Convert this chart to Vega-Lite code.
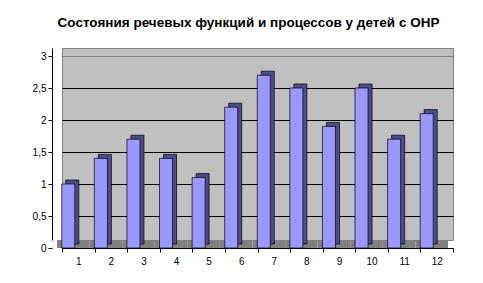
{
  "$schema": "https://vega.github.io/schema/vega-lite/v6.json",
  "width": 391,
  "height": 192,
  "autosize": {"type": "none"},
  "padding": {"left": 62, "top": 48, "right": 30, "bottom": 43},
  "background": "white",
  "title": {
    "text": "Состояния речевых функций и процессов у детей с ОНР",
    "font": "Liberation Sans",
    "fontSize": 13.5,
    "fontWeight": "bold",
    "color": "black",
    "anchor": "middle",
    "frame": "group",
    "dx": -9,
    "offset": 19
  },
  "data": {
    "values": [
      {"k": "1", "v": 1.0},
      {"k": "2", "v": 1.4},
      {"k": "3", "v": 1.7},
      {"k": "4", "v": 1.4},
      {"k": "5", "v": 1.1},
      {"k": "6", "v": 2.2},
      {"k": "7", "v": 2.7},
      {"k": "8", "v": 2.5},
      {"k": "9", "v": 1.9},
      {"k": "10", "v": 2.5},
      {"k": "11", "v": 1.7},
      {"k": "12", "v": 2.1}
    ]
  },
  "encoding": {
    "x": {
      "field": "k",
      "type": "ordinal",
      "sort": null,
      "scale": {"paddingInner": 0, "paddingOuter": 0},
      "axis": {
        "title": null,
        "labelAngle": 0,
        "offset": 8,
        "tickOffset": -10,
        "tickBand": "extent",
        "domainColor": "black",
        "tickColor": "black",
        "tickSize": 4,
        "labelFont": "Liberation Sans",
        "labelFontSize": 10,
        "labelColor": "black",
        "labelPadding": 4
      }
    }
  },
  "layer": [
    {
      "mark": {"type": "rect", "fill": "#808080", "xOffset": -5, "y2Offset": 8},
      "encoding": {
        "y": {
          "datum": 0,
          "type": "quantitative",
          "scale": {"domain": [0, 3], "nice": false},
          "axis": {
            "title": null,
            "values": [0, 0.5, 1, 1.5, 2, 2.5, 3],
            "tickCount": 7,
            "format": "~g",
            "labelExpr": "replace(datum.label, '.', ',')",
            "labelOverlap": false,
            "offset": 10,
            "tickOffset": 8,
            "grid": true,
            "gridColor": {"condition": {"test": "datum.value === 0 || datum.value === 3", "value": "#808080"}, "value": "black"},
            "gridOpacity": 1,
            "domainColor": "black",
            "tickColor": "black",
            "tickSize": 4,
            "labelFont": "Liberation Sans",
            "labelFontSize": 10,
            "labelColor": "black",
            "labelPadding": 2
          }
        },
        "y2": {"datum": 0}
      }
    },
    {
      "mark": {"type": "bar", "width": {"band": 0.4}, "fill": "#4C4C8C", "stroke": "black", "strokeWidth": 0.7, "xOffset": -6, "yOffset": 4, "y2Offset": 4},
      "encoding": {
        "y": {
          "field": "v",
          "type": "quantitative",
          "axis": {
            "title": null,
            "values": [0, 0.5, 1, 1.5, 2, 2.5, 3],
            "tickCount": 7,
            "format": "~g",
            "labelExpr": "replace(datum.label, '.', ',')",
            "labelOverlap": false,
            "offset": 10,
            "tickOffset": 8,
            "grid": true,
            "gridColor": {"condition": {"test": "datum.value === 0 || datum.value === 3", "value": "#808080"}, "value": "black"},
            "gridOpacity": 1,
            "domainColor": "black",
            "tickColor": "black",
            "tickSize": 4,
            "labelFont": "Liberation Sans",
            "labelFontSize": 10,
            "labelColor": "black",
            "labelPadding": 2
          }
        },
        "y2": {"datum": 0}
      }
    },
    {
      "mark": {"type": "bar", "width": {"band": 0.4}, "fill": "#9999FF", "stroke": "black", "strokeWidth": 0.7, "xOffset": -10, "yOffset": 8, "y2Offset": 8},
      "encoding": {
        "y": {
          "field": "v",
          "type": "quantitative",
          "axis": {
            "title": null,
            "values": [0, 0.5, 1, 1.5, 2, 2.5, 3],
            "tickCount": 7,
            "format": "~g",
            "labelExpr": "replace(datum.label, '.', ',')",
            "labelOverlap": false,
            "offset": 10,
            "tickOffset": 8,
            "grid": true,
            "gridColor": {"condition": {"test": "datum.value === 0 || datum.value === 3", "value": "#808080"}, "value": "black"},
            "gridOpacity": 1,
            "domainColor": "black",
            "tickColor": "black",
            "tickSize": 4,
            "labelFont": "Liberation Sans",
            "labelFontSize": 10,
            "labelColor": "black",
            "labelPadding": 2
          }
        },
        "y2": {"datum": 0}
      }
    }
  ],
  "config": {
    "view": {"fill": "#C0C0C0", "stroke": "#808080", "strokeWidth": 1}
  }
}
